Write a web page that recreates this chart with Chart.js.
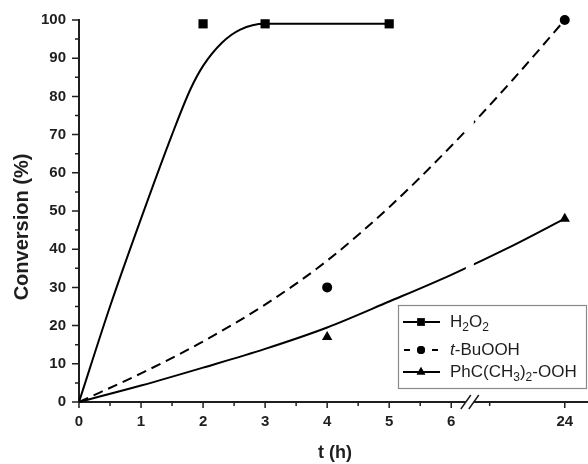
<!DOCTYPE html>
<html>
<head>
<meta charset="utf-8">
<script src="https://cdn.jsdelivr.net/npm/chart.js@4.4.1/dist/chart.umd.min.js"></script>
<style>
  html, body { margin: 0; padding: 0; background: #fff; }
  #wrap { width: 588px; height: 464px; }
</style>
</head>
<body>
<div id="wrap"><canvas id="chart" width="588" height="464"></canvas></div>
<script>
// measured points (t in hours, conversion in %)
const h2o2Time = [2, 3, 5];
const h2o2Conv = [99, 99, 99];
const tbuTime = [4, 24];
const tbuConv = [30, 100];
const phcTime = [4, 24];
const phcConv = [17, 48];

// fitted curves
const h2o2FitTime = [0, 0.5, 1, 1.5, 1.8, 2, 2.3, 2.6, 3, 5];
const h2o2FitConv = [0, 25, 48, 70, 82, 88, 94, 97.5, 99, 99];
const tbuFitTime = [0, 1, 1.95, 3, 4, 5, 6, 14.4, 24];
const tbuFitConv = [0, 7.5, 15.4, 25.5, 37, 51, 67, 84.5, 100];
const phcFitTime = [0, 1, 2, 3, 4, 5, 6, 14.4, 24];
const phcFitConv = [0, 4.3, 9, 13.9, 19.5, 26.3, 33.3, 41, 48];

// axis ticks
const xTickHours = [0, 1, 2, 3, 4, 5, 6, 24];
const xTickLabels = ["0", "1", "2", "3", "4", "5", "6", "24"];
const xMinorHours = [0.5, 1.5, 2.5, 3.5, 4.5, 5.5, 10];
const yTickValues = [0, 10, 20, 30, 40, 50, 60, 70, 80, 90, 100];
const yMinorValues = [5, 15, 25, 35, 45, 55, 65, 75, 85, 95];

// legend labels, pieces marked "sub" are subscripts, "it" italic
const seriesLabels = [
  [["H"], ["2", "sub"], ["O"], ["2", "sub"]],
  [["t", "it"], ["-BuOOH"]],
  [["PhC(CH"], ["3", "sub"], [")"], ["2", "sub"], ["-OOH"]],
];

// broken x axis: hours after the break are squeezed
const BREAK_T = 6.3;
const END_POS = 7.83;
function axisPos(t) {
  if (t <= BREAK_T) return t;
  return BREAK_T + (t - BREAK_T) * (END_POS - BREAK_T) / (24 - BREAK_T);
}

function toPoints(times, values) {
  return times.map((t, i) => ({ x: axisPos(t), y: values[i] }));
}

const FONT = "'Liberation Sans', Arial, sans-serif";
const INK = "#1e1e1e";

// extra drawing: minor/major ticks, axis break, titles, legend
const decorPlugin = {
  id: "decor",
  afterDatasetsDraw(chart) {
    const { ctx, chartArea } = chart;
    const xs = chart.scales.x;
    const bx = xs.getPixelForValue(BREAK_T);
    ctx.save();
    ctx.fillStyle = "#fff";
    ctx.fillRect(bx - 4, chartArea.top, 8, chartArea.bottom - chartArea.top - 8);
    ctx.restore();
  },
  afterDraw(chart) {
    const { ctx, chartArea } = chart;
    const xs = chart.scales.x;
    const ys = chart.scales.y;
    const left = chartArea.left;
    const bottom = chartArea.bottom;

    ctx.save();
    ctx.strokeStyle = INK;
    // run the x axis line out to the canvas edge
    ctx.lineWidth = 2;
    ctx.beginPath();
    ctx.moveTo(chartArea.right - 1, bottom);
    ctx.lineTo(chart.width, bottom);
    ctx.stroke();

    ctx.lineWidth = 1.5;
    ctx.beginPath();
    yTickValues.forEach((v) => {
      const y = ys.getPixelForValue(v);
      ctx.moveTo(left - 7, y);
      ctx.lineTo(left, y);
    });
    yMinorValues.forEach((v) => {
      const y = ys.getPixelForValue(v);
      ctx.moveTo(left - 4, y);
      ctx.lineTo(left, y);
    });
    xTickHours.forEach((t) => {
      const x = xs.getPixelForValue(axisPos(t));
      ctx.moveTo(x, bottom);
      ctx.lineTo(x, bottom + 6);
    });
    xMinorHours.forEach((t) => {
      const x = xs.getPixelForValue(axisPos(t));
      ctx.moveTo(x, bottom);
      ctx.lineTo(x, bottom + 4);
    });
    ctx.stroke();

    // axis break "//"
    const bx = xs.getPixelForValue(BREAK_T);
    ctx.fillStyle = "#fff";
    ctx.fillRect(bx - 4, bottom - 3, 8, 6);
    ctx.beginPath();
    ctx.moveTo(bx - 9, bottom + 7);
    ctx.lineTo(bx + 1, bottom - 7);
    ctx.moveTo(bx - 1, bottom + 7);
    ctx.lineTo(bx + 9, bottom - 7);
    ctx.stroke();

    // axis titles
    ctx.fillStyle = INK;
    ctx.textAlign = "center";
    ctx.textBaseline = "middle";
    ctx.font = "bold 18px " + FONT;
    ctx.fillText("t (h)", 335, 453);
    ctx.translate(22, 227);
    ctx.rotate(-Math.PI / 2);
    ctx.font = "bold 20px " + FONT;
    ctx.fillText("Conversion (%)", 0, 0);
    ctx.restore();

    // legend box
    const boxL = 398, boxT = 305, boxR = 586, boxB = 388;
    ctx.save();
    ctx.fillStyle = "#fff";
    ctx.fillRect(boxL, boxT, boxR - boxL, boxB - boxT);
    ctx.strokeStyle = "#8a8a8a";
    ctx.lineWidth = 1.2;
    ctx.strokeRect(boxL + 0.5, boxT + 0.5, boxR - boxL, boxB - boxT);

    const rowY = [322, 350, 372];
    chart.data.datasets.forEach((ds) => {
      if (ds.legendRow === undefined) return;
      const y = rowY[ds.legendRow];
      const fit = chart.data.datasets.find((d) => d.fitRow === ds.legendRow);
      ctx.strokeStyle = "#000";
      ctx.lineWidth = 2;
      ctx.beginPath();
      if (fit.borderDash) {
        ctx.moveTo(404, y);
        ctx.lineTo(410, y);
        ctx.moveTo(432, y);
        ctx.lineTo(438, y);
      } else {
        ctx.moveTo(403, y);
        ctx.lineTo(440, y);
      }
      ctx.stroke();
      Chart.helpers.drawPoint(ctx, {
        pointStyle: ds.pointStyle,
        radius: ds.legendRadius,
        borderWidth: 0,
      }, 421, y);
      ctx.fillStyle = "#000";
      ctx.fill();

      // label with subscripts
      let x = 450;
      ctx.fillStyle = INK;
      ctx.textAlign = "left";
      ctx.textBaseline = "middle";
      seriesLabels[ds.legendRow].forEach(([txt, kind]) => {
        if (kind === "sub") {
          ctx.font = "12px " + FONT;
          ctx.fillText(txt, x, y + 6);
        } else {
          ctx.font = (kind === "it" ? "italic " : "") + "17px " + FONT;
          ctx.fillText(txt, x, y);
        }
        x += ctx.measureText(txt).width;
      });
    });
    ctx.restore();
  },
};

const fitLine = (times, values, row, dash) => ({
  data: toPoints(times, values),
  showLine: true,
  borderColor: "#000",
  borderWidth: 2,
  borderDash: dash,
  pointRadius: 0,
  cubicInterpolationMode: "monotone",
  fitRow: row,
  clip: false,
});

const markers = (times, values, row, style, radius) => ({
  data: toPoints(times, values),
  showLine: false,
  pointStyle: style,
  pointRadius: radius,
  legendRadius: radius - 1,
  pointBackgroundColor: "#000",
  pointBorderColor: "#000",
  pointBorderWidth: 0,
  legendRow: row,
  clip: false,
});

new Chart(document.getElementById("chart"), {
  type: "scatter",
  data: {
    datasets: [
      fitLine(h2o2FitTime, h2o2FitConv, 0, undefined),
      fitLine(tbuFitTime, tbuFitConv, 1, [10, 6]),
      fitLine(phcFitTime, phcFitConv, 2, undefined),
      markers(h2o2Time, h2o2Conv, 0, "rect", 6.5),
      markers(tbuTime, tbuConv, 1, "circle", 5),
      markers(phcTime, phcConv, 2, "triangle", 6),
    ],
  },
  options: {
    responsive: false,
    animation: false,
    layout: { padding: { top: 20, right: 0, left: 0, bottom: 0 } },
    plugins: { legend: { display: false }, tooltip: { enabled: false } },
    scales: {
      x: {
        type: "linear",
        min: 0,
        max: 8.1,
        afterFit: (scale) => {
          scale.height = 62;
          scale.paddingLeft = 0;
          scale.paddingRight = 0;
        },
        afterBuildTicks: (scale) => {
          scale.ticks = xTickHours.map((t) => ({ value: axisPos(t) }));
        },
        grid: { display: false, drawTicks: false },
        border: { display: true, color: INK, width: 2 },
        ticks: {
          autoSkip: false,
          maxRotation: 0,
          padding: 11,
          color: INK,
          font: { family: FONT, size: 15, weight: "bold" },
          callback: (value, index) => xTickLabels[index],
        },
      },
      y: {
        min: 0,
        max: 100,
        afterFit: (scale) => {
          scale.width = 79;
          scale.paddingTop = 0;
          scale.paddingBottom = 0;
        },
        afterBuildTicks: (scale) => {
          scale.ticks = yTickValues.map((v) => ({ value: v }));
        },
        grid: { display: false, drawTicks: false },
        border: { display: true, color: INK, width: 2 },
        ticks: {
          padding: 13,
          color: INK,
          font: { family: FONT, size: 15, weight: "bold" },
        },
      },
    },
  },
  plugins: [decorPlugin],
});
</script>
</body>
</html>
